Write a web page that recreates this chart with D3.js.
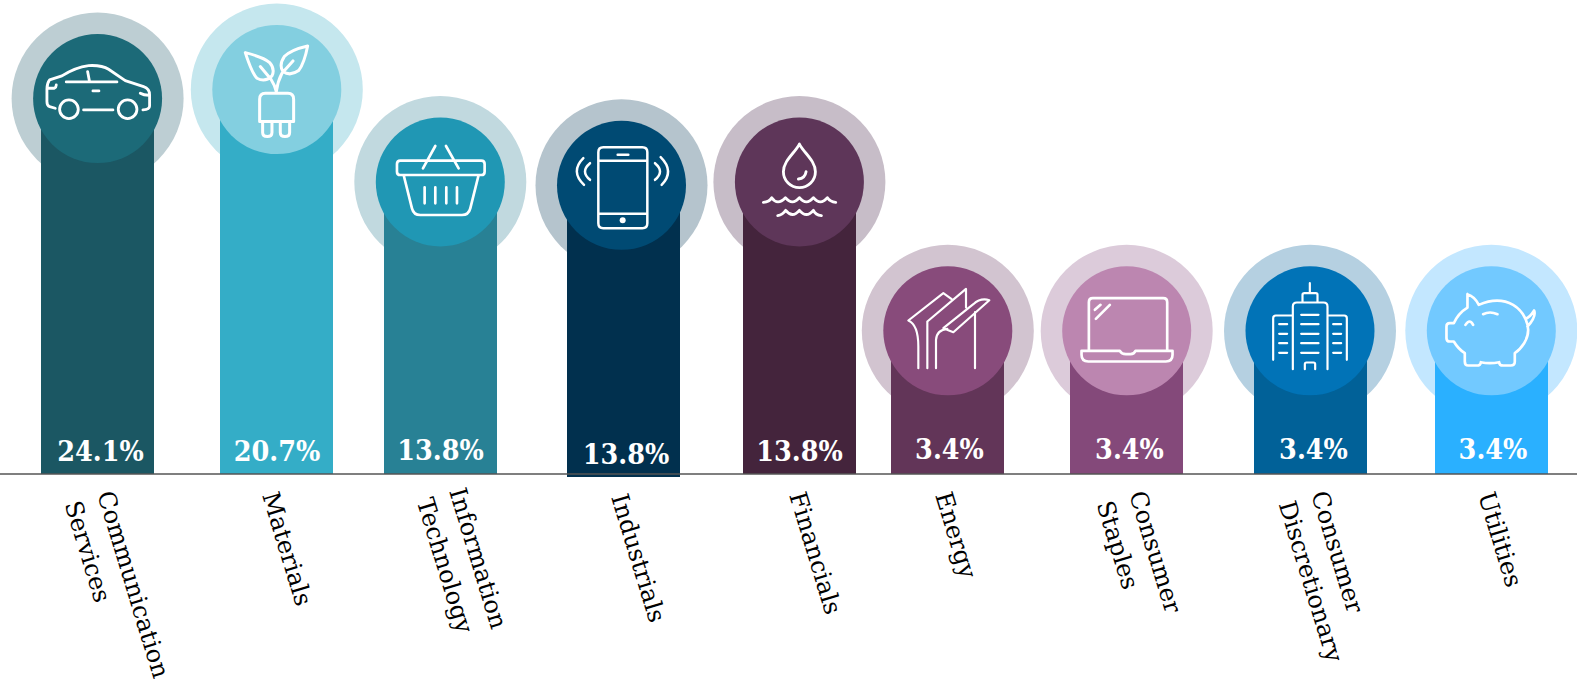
<!DOCTYPE html>
<html>
<head>
<meta charset="utf-8">
<script src="https://cdn.jsdelivr.net/npm/d3@7/dist/d3.min.js"></script>
<style>
html,body{margin:0;padding:0;background:#fff;overflow:hidden}
svg{display:block}
text{font-family:"DejaVu Serif",serif}
</style>
</head>
<body>
<svg id="chart" width="1577" height="684"></svg>
<script>
// ---- data ----
const categories = ["Communication Services","Materials","Information Technology","Industrials","Financials","Energy","Consumer Staples","Consumer Discretionary","Utilities"];
const values = [24.1,20.7,13.8,13.8,13.8,3.4,3.4,3.4,3.4];
// Height each column is actually drawn to (percent of plot height).
const shownLevels = [79.2,81.1,61.6,60.9,61.6,30.2,30.2,30.2,30.2];

// ---- layout ----
const W = 1577, H = 684, baseY = 474, barW = 113;
const barCentres  = [97.5,276.5,440.5,623.5,799.5,947.5,1126.5,1310.5,1491.5];
const iconCentres = [97.6,276.8,440.3,621.5,799.4,947.8,1126.7,1310,1491.3];
const barDrop     = [0,0,0,3,0,0,0,0,0];
const valueX      = [100.5,277,440.5,626,799.5,949.5,1129.5,1313.5,1493];
const valueBase   = [460.5,460.5,460,463.5,460.5,458.5,458.5,458.5,458.5];
const labelStartX = [97,262,449,611,789,935,1129,1311,1478];
const labelStartY = [494,495,491,497,495,495,494,494,495];
const innerR = 64.5, outerR = 86;

// ---- colours ----
const barColours   = ["#1b5763","#34adc7","#288195","#01304e","#44243c","#623558","#84497a","#016198","#2ab0ff"];
const innerColours = ["#1c6a78","#83cfe0","#2097b4","#004a73","#5e3659","#884b7b","#bc86b0","#0173b7","#72c9ff"];
const outerColours = ["#bdced3","#c5e7ee","#c1d9df","#b5c4cd","#c7bdc8","#d2c4d0","#dccbda","#b5d0e1","#c3e7ff"];

// ---- icons (drawn on a 3x grid around their origin [ox, oy]) ----
const icons = [
 {ox:202,oy:206,sw:8.5,d:"M75,235 L58,230 Q50,228 50,215 V178 Q50,160 58,150 L95,138 Q135,112 175,107 Q215,105 235,118 L285,152 L340,170 Q358,176 358,195 V228 Q358,238 338,240 M108,156 H260 M172,125 L178,156 M188,183 H206 M160,240 H248 M55,175 H72 Q78,172 78,165 M330,190 Q340,196 356,196 M144,238 A28,28 0 1 1 88,238 A28,28 0 1 1 144,238 M320,238 A28,28 0 1 1 264,238 A28,28 0 1 1 320,238"},
 {ox:739.5,oy:179,sw:9,d:"M645,68 Q700,82 718,98 Q735,118 725,138 Q705,158 680,145 Q665,130 645,68 Z M832,48 Q780,60 762,80 Q745,105 758,125 Q780,140 805,122 Q822,100 832,48 Z M690,110 L722,148 Q733,165 738,185 M788,93 L755,130 Q742,155 738,185 M688,275 V208 Q688,190 705,190 H773 Q790,190 790,208 V275 Z M697,275 V308 Q697,320 711,320 Q725,320 725,308 V275 M750,275 V308 Q750,320 764,320 Q778,320 778,308 V275"},
 {ox:180,oy:156,sw:8,d:"M60,92 H303 Q313,92 313,102 V125 Q313,135 303,135 H60 Q50,135 50,125 V102 Q50,92 60,92 Z M70,135 L95,235 Q100,255 120,255 H245 Q265,255 270,235 L295,135 M133,172 V220 M165,172 V220 M198,172 V220 M230,172 V220 M165,48 L128,115 M197,48 L235,115"},
 {ox:724.5,oy:166.5,sw:7.5,d:"M670,52 H787 Q802,52 802,67 V280 Q802,295 787,295 H670 Q655,295 655,280 V67 Q655,52 670,52 Z M655,93 H802 M655,252 H802 M713,75 H745 M610,85 Q570,125 612,165 M630,100 Q600,125 630,150 M825,100 Q855,125 825,150 M842,82 Q885,125 845,165", dots:[[728,271,9]]},
 {ox:178,oy:156,sw:8.5,d:"M178,42 C165,68 130,92 130,125 A48,48 0 0 0 226,125 C226,92 191,68 178,42 Z M175,147 Q195,145 198,125 M70,217 Q88,215 95,203 Q112,228 136,203 Q157,228 178,203 Q199,228 220,203 Q241,228 262,203 Q270,215 287,217 M113,257 Q128,255 137,241 Q157,266 178,241 Q199,266 220,241 Q226,255 244,257"},
 {ox:173.4,oy:168,sw:6.5,d:"M85,280 V215 Q85,150 55,137 L160,55 L185,73 M112,280 V140 L228,42 V98 M138,280 V195 Q140,165 172,162 M160,160 L250,88 Q272,68 298,76 L190,172 Z M255,112 V280"},
 {ox:710.5,oy:168,sw:8,d:"M597,228 V82 Q597,70 609,70 H820 Q832,70 832,82 V228 M575,228 H690 Q695,238 708,238 H722 Q733,238 737,228 H848 V240 Q848,260 828,260 H595 Q575,260 575,240 Z M615,105 L632,90 M618,132 L660,90"},
 {ox:164.5,oy:168,sw:6.5,d:"M164,25 V55 M142,82 V60 Q142,55 148,55 H182 Q187,55 187,60 V82 M113,283 V95 Q113,83 125,83 H205 Q217,83 217,95 V283 M113,122 H62 Q54,122 54,130 V255 M217,122 H267 Q275,122 275,130 V255 M138,120 H190 M138,148 H190 M138,177 H190 M138,205 H190 M138,234 H190 M72,148 H96 M72,177 H96 M72,205 H96 M72,234 H96 M234,148 H258 M234,177 H258 M234,205 H258 M234,234 H258 M149,283 V268 Q149,263 154,263 H175 Q180,263 180,268 V283"},
 {ox:709.5,oy:168,sw:8,d:"M638,58 Q660,65 672,90 Q730,65 775,90 Q800,105 812,132 Q825,128 838,107 Q845,125 818,155 M812,132 Q830,170 808,205 Q795,225 780,235 V260 Q780,272 768,272 H745 Q733,272 733,262 Q705,268 678,262 Q678,272 665,272 H640 Q630,272 630,260 V235 Q610,222 597,200 H585 Q575,200 575,190 V155 Q575,145 585,145 H597 Q610,115 638,98 L638,58 M632,150 Q645,130 655,150 M685,118 Q705,108 728,118"}
];

// ---- scales ----
const y = d3.scaleLinear().domain([0,100]).range([baseY,0]);
const xBar = d3.scaleOrdinal().domain(categories).range(barCentres);
const xIcon = d3.scaleOrdinal().domain(categories).range(iconCentres);
const fillBar = d3.scaleOrdinal().domain(categories).range(barColours);
const fillInner = d3.scaleOrdinal().domain(categories).range(innerColours);
const fillOuter = d3.scaleOrdinal().domain(categories).range(outerColours);

const rows = categories.map((c,i)=>({c,i,v:values[i],level:shownLevels[i]}));
const svg = d3.select("#chart");

svg.append("g").selectAll("circle").data(rows).join("circle")
  .attr("cx",d=>xIcon(d.c)).attr("cy",d=>y(d.level)).attr("r",outerR).attr("fill",d=>fillOuter(d.c));

svg.append("g").selectAll("rect").data(rows).join("rect")
  .attr("x",d=>xBar(d.c)-barW/2).attr("width",barW)
  .attr("y",d=>y(d.level)).attr("height",d=>y(0)+barDrop[d.i]-y(d.level))
  .attr("fill",d=>fillBar(d.c));

svg.append("g").selectAll("circle").data(rows).join("circle")
  .attr("cx",d=>xIcon(d.c)).attr("cy",d=>y(d.level)).attr("r",innerR).attr("fill",d=>fillInner(d.c));

// icons
const iconG = svg.append("g").selectAll("g").data(rows).join("g")
  .attr("transform",d=>`translate(${xIcon(d.c)},${y(d.level)}) scale(${1/3}) translate(${-icons[d.i].ox},${-icons[d.i].oy})`);
iconG.append("path").attr("d",d=>icons[d.i].d).attr("fill","none").attr("stroke","#fff")
  .attr("stroke-width",d=>icons[d.i].sw).attr("stroke-linecap","round").attr("stroke-linejoin","round");
iconG.selectAll("circle").data(d=>icons[d.i].dots||[]).join("circle")
  .attr("cx",p=>p[0]).attr("cy",p=>p[1]).attr("r",p=>p[2]).attr("fill","#fff");

// value labels
svg.append("g").selectAll("text").data(rows).join("text")
  .attr("transform",d=>`translate(${valueX[d.i]},${valueBase[d.i]}) scale(0.93,1)`)
  .attr("text-anchor","middle").attr("fill","#fff")
  .attr("font-size",27.5).attr("font-weight",700)
  .text(d=>d.v.toFixed(1)+"%");

// axis: baseline across the page + rotated, wrapped category labels
const axis = d3.axisBottom(xBar).tickSize(0).tickPadding(0);
const axisG = svg.append("g").attr("transform",`translate(0,${baseY})`).call(axis);
axisG.select(".domain").remove();
axisG.selectAll(".tick").attr("transform",null);
axisG.selectAll(".tick text").each(function(c){
  const i = categories.indexOf(c);
  const t = d3.select(this).text(null)
    .attr("font-family",null).attr("dy",null).attr("y",null)
    .attr("text-anchor","start").attr("fill","#000").attr("font-size",24.3)
    .attr("transform",`translate(${labelStartX[i]},${labelStartY[i]-baseY}) rotate(73)`);
  c.split(" ").forEach((w,k)=>{
    t.append("tspan").attr("x",0).attr("y",k*34).text(w);
  });
});
axisG.attr("font-family",null).attr("font-size",null);
svg.append("line").attr("x1",0).attr("x2",W).attr("y1",baseY).attr("y2",baseY)
  .attr("stroke","#555").attr("stroke-width",1.5);
</script>
</body>
</html>
